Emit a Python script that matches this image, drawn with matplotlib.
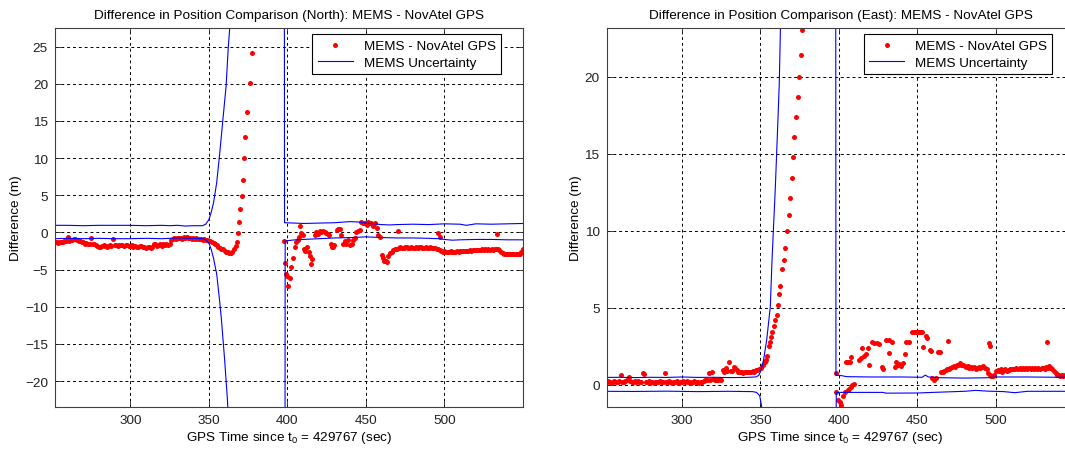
# Разница положения MEMS - NovAtel GPS (север и восток) с границами неопределённости
import numpy as np
import matplotlib
matplotlib.use('Agg')
import matplotlib.pyplot as plt

plt.rcParams['font.family'] = ['Liberation Sans', 'DejaVu Sans']
plt.rcParams['mathtext.fontset'] = 'custom'
plt.rcParams['mathtext.rm'] = 'Liberation Sans'
plt.rcParams['mathtext.default'] = 'regular'

FS = 9.7

# ---------------- North ----------------
# плотный участок до потери GPS, шаг 1 с начиная с 252
north_pre = [
    -1.3, -1.35, -1.4, -1.3, -1.35, -1.25, -1.2, -1.15, -0.65, -1.1,
    -1.05, -1.0, -0.95, -0.9, -1.0, -1.1, -1.2, -1.3, -1.35, -1.5,
    -1.45, -1.6, -1.5, -0.75, -1.55, -1.6, -1.7, -1.85, -1.9, -1.95,
    -1.8, -1.75, -1.85, -1.9, -1.8, -1.75, -1.85, -0.9, -1.7, -1.75,
    -1.8, -1.7, -1.75, -1.65, -1.8, -1.75, -1.7, -1.85, -1.8, -1.75,
    -1.9, -1.85, -1.95, -1.9, -1.8, -1.85, -2.0, -1.95, -2.05, -1.9,
    -1.95, -2.1, -1.9, -1.5, -1.6, -1.85, -1.7, -1.5, -1.8, -1.55,
    -1.7, -1.6, -1.75, -1.55, -1.05, -0.85, -0.75, -0.9, -0.7, -0.8,
    -0.75, -0.85, -0.65, -0.75, -0.6, -0.8, -0.7, -0.85, -0.75, -0.9,
    -0.8, -0.85, -0.95, -0.9, -1.0, -0.95, -1.05, -1.0, -1.1,
]
north_pre_t0 = 252

# провал и уход вверх
north_mid_t = [351, 352, 353, 354, 355, 356, 357, 358, 359, 360, 361, 362, 363,
               364, 365, 366, 367, 367.7, 368.4, 369.2, 370.0, 370.8, 371.5,
               372.4, 373.3, 374.3, 375.9, 377.4]
north_mid_y = [-1.2, -1.3, -1.45, -1.6, -1.75, -1.9, -2.05, -2.2, -2.3, -2.45,
               -2.6, -2.7, -2.8, -2.75, -2.6, -2.3, -1.8, -1.25, -0.1, 1.35,
               3.1, 4.9, 7.0, 10.0, 12.8, 16.2, 20.1, 24.2]

# разброс после восстановления GPS
north_post_t = [398.1, 398.6, 399.2, 400.0, 400.7, 401.5, 402.6, 403.5, 404.8,
                405.7, 406.6, 407.2, 407.8, 408.9, 409.9, 410.5, 411.5, 412.3,
                413.5, 414.3, 414.9, 415.8, 417.4, 418.5, 419.4, 420.6, 421.7,
                422.8, 423.8, 424.8, 425.8, 426.5, 427.6, 428.3, 429.1, 430.0,
                431.3, 432.3, 433.4, 434.3, 435.5, 436.5, 437.6, 438.6, 439.9,
                441.0, 442.0, 443.0, 444.0, 445.0, 446.0, 447.2, 448.0, 449.4,
                450.4, 451.5, 452.2, 453.2, 454.7, 455.7, 456.8, 457.9, 459.0,
                460.0, 461.0, 461.7, 462.5, 463.2, 464.3, 465.3, 466.4, 467.4,
                468.5, 469.5, 470.6, 496.2, 497.2, 533.6]
north_post_y = [-1.15, -4.1, -5.6, -5.9, -7.2, -6.1, -4.6, -3.5, -2.0,
                -1.3, -1.0, -0.6, 0.8, -0.1, -0.3, -2.2, -2.5, -2.0,
                -2.7, -3.2, -4.3, -3.6, -0.4, 0.0, -0.2, 0.2, 0.1,
                0.15, 0.0, -0.1, -0.2, -0.3, -1.6, -1.9, -2.0, -1.7,
                0.3, 0.4, 0.5, -0.3, -1.5, -1.2, -1.6, -1.0, -1.7,
                -1.5, -1.05, -0.7, 0.1, 0.25, 0.3, 1.45, 1.3, 1.2,
                1.0, 1.4, 1.2, 1.3, 0.8, 1.2, 0.6, -0.4, -0.6,
                -3.1, -3.5, -3.8, -3.9, -4.0, -3.2, -2.8, -2.6, -2.4,
                -2.3, -2.2, 0.2, -0.15, -0.6, -0.2]

# плотный участок в конце, шаг 1 с начиная с 471
north_end = [
    -2.1, -2.0, -2.05, -2.1, -2.0, -1.95, -2.05, -2.1, -2.0, -2.05,
    -2.1, -2.0, -2.05, -1.95, -2.0, -2.1, -2.05, -2.0, -2.05, -2.1,
    -2.0, -2.05, -2.1, -2.15, -2.2, -2.3, -2.4, -2.45, -2.6, -2.55,
    -2.6, -2.65, -2.6, -2.55, -2.6, -2.65, -2.6, -2.55, -2.6, -2.5,
    -2.55, -2.5, -2.45, -2.5, -2.45, -2.4, -2.45, -2.4, -2.35, -2.4,
    -2.35, -2.4, -2.35, -2.3, -2.35, -2.3, -2.35, -2.3, -2.35, -2.3,
    -2.35, -2.3, -2.3, -2.3, -2.35, -2.6, -2.75, -2.85, -2.9, -2.85,
    -2.9, -2.95, -2.85, -2.9, -2.95, -2.9, -2.85, -2.9, -2.6, -2.3,
]
north_end_t0 = 471

# границы неопределённости MEMS (север)
north_up_t = [252, 260, 270, 280, 290, 300, 310, 320, 325, 330, 335, 340, 346,
              348, 350, 351.5, 353, 355, 357, 359, 361, 362.3, 363.4, 366, 380,
              397.9, 398.2, 405, 410, 420, 430, 440, 445, 450, 455, 460, 465,
              470, 480, 490, 495, 500, 510, 514, 520, 530, 540, 550]
north_up_y = [0.95, 0.95, 0.9, 0.95, 0.95, 0.95, 0.9, 0.95, 0.9, 0.95, 0.85, 0.9, 0.9,
              1.1, 1.7, 2.7, 4.0, 6.7, 10.8, 15.3, 19.7, 24.7, 27.8, 40, 90,
              90, 1.3, 1.25, 1.2, 1.25, 1.3, 1.45, 1.4, 1.25, 1.15, 1.05, 1.0,
              1.05, 1.1, 1.05, 1.1, 1.15, 1.1, 0.95, 1.15, 1.1, 1.15, 1.2]
north_lo_t = [252, 260, 270, 280, 290, 300, 310, 320, 330, 340, 346, 348, 350,
              351.5, 353, 355, 357, 358, 360, 361.8, 363, 380, 398.3, 398.6,
              405, 410, 420, 430, 440, 450, 455, 460, 470, 480, 490, 497, 500,
              505, 510, 520, 530, 540, 550]
north_lo_y = [-0.85, -0.8, -0.85, -0.8, -0.85, -0.85, -0.8, -0.85, -0.75, -0.8,
              -0.85, -1.0, -1.4, -2.3, -3.5, -5.6, -9.5, -11.7, -17.0, -22.4,
              -27, -90, -90, -1.15, -1.0, -0.95, -0.85, -0.75, -0.7, -0.6,
              -0.65, -0.7, -0.75, -0.75, -0.8, -0.85, -0.95, -1.05, -1.0,
              -0.95, -0.95, -1.0, -1.0]

# ---------------- East ----------------
east_pre = [
    0.2, 0.22, 0.15, 0.1, 0.2, 0.25, 0.15, 0.18, 0.22, 0.65,
    0.2, 0.15, 0.25, 0.3, 0.47, 0.25, 0.2, 0.15, 0.22, 0.18,
    0.25, 0.2, 0.15, 0.75, 0.72, 0.2, 0.15, 0.25, 0.1, 0.18,
    0.12, 0.2, 0.15, 0.2, 0.25, 0.15, 0.2, 0.75, 0.2, 0.15,
    0.22, 0.18, 0.12, 0.2, 0.15, 0.22, 0.1, 0.15, 0.2, 0.25,
    0.18, 0.22, 0.15, 0.2, 0.1, 0.18, 0.22, 0.15, 0.2, 0.12,
    0.2, 0.15, 0.25, 0.3, 0.28, 0.75, 0.3, 0.82, 0.35, 0.3,
    0.33, 0.28, 0.35, 0.3, 0.97, 0.85, 1.08, 0.9, 1.44, 0.9,
    0.88, 1.14, 1.08, 0.95, 0.85, 0.82, 0.8, 0.78, 0.8, 0.82,
    0.8, 0.85, 0.82, 0.88, 0.85, 0.95, 0.97, 1.0,
]
east_pre_t0 = 252

east_mid_t = [350.6, 351.7, 352.7, 353.5, 354.2, 355.3, 356.1, 356.8, 357.6,
              358.4, 359.5, 360.3, 361.2, 362.0, 362.7, 363.7, 364.8, 365.8,
              366.9, 367.9, 369.0, 370.0, 370.7, 371.7, 372.6, 373.8, 374.7,
              375.9, 376.8]
east_mid_y = [1.08, 1.3, 1.44, 1.6, 1.87, 2.5, 2.8, 3.1, 3.45,
              3.8, 4.2, 4.5, 5.2, 5.9, 6.4, 7.5, 8.1, 8.9,
              10.0, 11.0, 12.1, 13.4, 14.8, 16.1, 17.4, 18.7, 20.0,
              21.4, 23.0]

east_post_t = [397.9, 398.3, 399.4, 400.5, 401.5, 402.5, 403.6, 404.6, 405.7,
               406.8, 405.5, 406.5, 407.5, 408.5, 409.5, 407.8, 413.1, 414.0,
               414.8, 416.2, 417.3, 418.8, 419.4, 421.1, 422.6, 424.1, 425.7,
               427.4, 428.3, 430.0, 431.6, 432.0, 433.8, 435.9, 436.3, 437.4,
               438.4, 439.4, 440.5, 442.2, 443.0, 444.7, 446.8, 448.0, 449.0,
               450.1, 451.2, 452.2, 453.2, 453.6, 455.3, 456.3, 457.8, 458.9,
               459.5, 460.5, 461.5, 463.1, 464.1, 469.6, 495.4, 496.4, 532.3]
east_post_y = [0.75, -0.5, -0.97, -1.1, -1.29, -0.75, -0.5, 1.44, 1.44,
               1.44, -0.35, -0.25, -0.15, -0.05, 0.05, 1.79, 1.62, 1.7,
               2.37, 1.83, 2.0, 2.41, 1.29, 2.74, 2.7, 2.7, 2.65,
               1.14, 1.0, 2.87, 2.05, 2.87, 2.8, 1.14, 1.5, 1.3,
               1.36, 1.2, 1.4, 2.0, 2.8, 2.8, 3.45, 3.45, 3.4,
               3.45, 3.45, 3.4, 3.45, 2.43, 3.17, 3.0, 2.26, 2.2,
               0.43, 0.32, 0.43, 2.15, 2.1, 2.84, 2.73, 2.48, 2.8]

east_end = [
    0.8, 0.85, 0.9, 0.95, 1.0, 1.05, 1.1, 1.15, 1.2, 1.15,
    1.25, 1.3, 1.4, 1.3, 1.25, 1.2, 1.15, 1.2, 1.1, 1.15,
    1.1, 1.15, 1.05, 1.1, 1.15, 1.1, 1.15, 1.2, 1.1, 1.05,
    0.75, 0.65, 0.58, 0.55, 0.65, 0.86, 0.95, 0.9, 1.0, 0.85,
    0.95, 1.0, 0.9, 0.95, 1.0, 1.05, 1.0, 1.05, 1.1, 1.05,
    1.1, 1.05, 1.1, 1.05, 1.1, 1.05, 1.1, 1.05, 1.1, 1.05,
    1.1, 1.05, 1.1, 1.05, 1.1, 1.1, 1.05, 1.15, 1.1, 1.2,
    1.1, 1.0, 0.9, 0.75, 0.65, 0.6, 0.55, 0.65, 0.55, 0.6,
    0.65, 0.55, 0.6, 0.65, 0.6,
]
east_end_t0 = 465

east_up_t = [252, 260, 270, 280, 290, 300, 310, 320, 330, 340, 347, 349, 350.5,
             352, 354, 356.3, 357.4, 359.5, 361.2, 362, 362.7, 364, 380, 397.8,
             398.1, 402, 405, 420, 440, 453, 455, 457, 465, 480, 495, 500, 520,
             540, 550]
east_up_y = [0.47, 0.48, 0.46, 0.48, 0.47, 0.5, 0.47, 0.48, 0.46, 0.47, 0.5, 0.6, 1.0,
             1.6, 2.9, 5.05, 8.1, 12.8, 17.3, 19.5, 22.9, 27, 60, 60,
             0.62, 0.58, 0.52, 0.5, 0.5, 0.48, 0.62, 0.5, 0.45, 0.43, 0.45, 0.5, 0.5,
             0.48, 0.5]
east_lo_t = [252, 270, 290, 310, 330, 345, 347.5, 349.5, 350.6, 351.5, 360, 397.8,
             398.3, 410, 428, 430, 450, 460, 480, 487, 495, 505, 512, 520, 550]
east_lo_y = [-0.43, -0.44, -0.42, -0.45, -0.43, -0.45, -0.5, -0.7, -1.3, -2.0, -20, -20,
             -0.5, -0.5, -0.5, -0.55, -0.54, -0.5, -0.43, -0.37, -0.42, -0.45, -0.52,
             -0.43, -0.43]


def collect(pre, pre_t0, mid_t, mid_y, post_t, post_y, end, end_t0):
    t = np.concatenate([np.arange(len(pre)) + pre_t0, mid_t, post_t,
                        np.arange(len(end)) + end_t0])
    y = np.concatenate([pre, mid_y, post_y, end])
    return t, y


def draw(ax, t, y, up_t, up_y, lo_t, lo_y, title, ylim, yticks):
    ax.plot(t, y, linestyle='none', marker='o', ms=3.6, mfc='red', mec='none',
            label='MEMS - NovAtel GPS')
    ax.plot(up_t, up_y, color='blue', lw=0.8, label='MEMS Uncertainty')
    ax.plot(lo_t, lo_y, color='blue', lw=0.8)

    ax.set_xlim(252, 550)
    ax.set_ylim(*ylim)
    ax.set_xticks([300, 350, 400, 450, 500])
    ax.set_yticks(yticks)
    ax.grid(True, color='black', linestyle=(0, (3, 3)), linewidth=0.7)
    ax.tick_params(direction='in', top=True, right=True, length=4, width=0.6,
                   labelsize=FS, pad=5, colors='#202020')
    for s in ax.spines.values():
        s.set_color('#404040')
        s.set_linewidth(0.8)

    ax.set_title(title, fontsize=FS, pad=7)
    ax.set_xlabel('GPS Time since t$_0$ = 429767 (sec)', fontsize=FS, labelpad=2)
    ax.set_ylabel('Difference (m)', fontsize=FS, labelpad=2)

    leg = ax.legend(loc='upper right', bbox_to_anchor=(0.953, 0.983),
                    borderaxespad=0, numpoints=1, fontsize=FS, fancybox=False,
                    framealpha=1, edgecolor='black', handlelength=2.6,
                    labelspacing=0.3, borderpad=0.4)
    leg.get_frame().set_linewidth(0.8)


fig = plt.figure(figsize=(10.65, 4.52), dpi=100)
ax1 = fig.add_axes([0.0516, 0.0973, 0.4394, 0.8385])
ax2 = fig.add_axes([0.5695, 0.0973, 0.4394, 0.8385])

t_n, y_n = collect(north_pre, north_pre_t0, north_mid_t, north_mid_y,
                   north_post_t, north_post_y, north_end, north_end_t0)
t_e, y_e = collect(east_pre, east_pre_t0, east_mid_t, east_mid_y,
                   east_post_t, east_post_y, east_end, east_end_t0)

draw(ax1, t_n, y_n, north_up_t, north_up_y, north_lo_t, north_lo_y,
     'Difference in Position Comparison (North): MEMS - NovAtel GPS',
     (-23.5, 27.5), [-20, -15, -10, -5, 0, 5, 10, 15, 20, 25])
draw(ax2, t_e, y_e, east_up_t, east_up_y, east_lo_t, east_lo_y,
     'Difference in Position Comparison (East): MEMS - NovAtel GPS',
     (-1.45, 23.15), [0, 5, 10, 15, 20])

fig.savefig('out.png', dpi=100)
